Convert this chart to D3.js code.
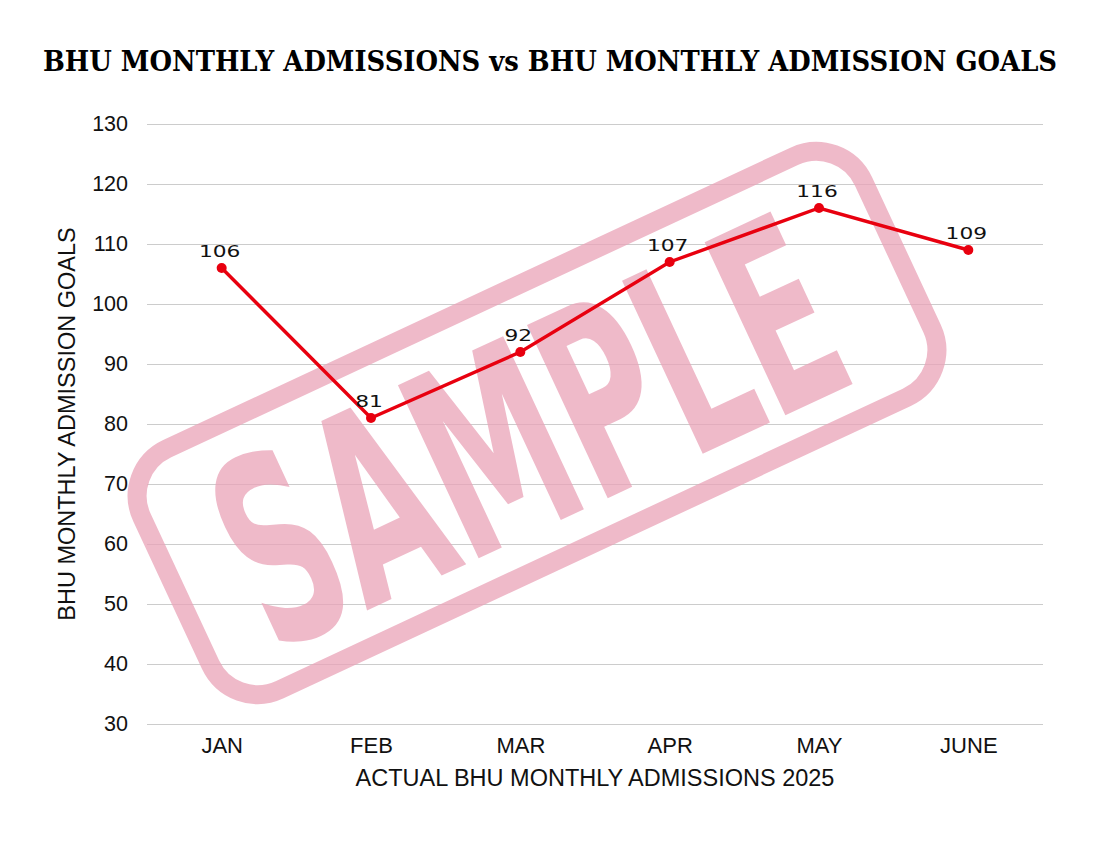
<!DOCTYPE html>
<html>
<head>
<meta charset="utf-8">
<script src="https://cdn.jsdelivr.net/npm/d3@7"></script>
<style>
  body { margin: 0; background: #fff; }
  #content { width: 1100px; height: 850px; }
</style>
</head>
<body>
<div id="content"></div>
<script>
var months = ['JAN', 'FEB', 'MAR', 'APR', 'MAY', 'JUNE'];
var admissions = [106, 81, 92, 107, 116, 109];
var yTicks = [30, 40, 50, 60, 70, 80, 90, 100, 110, 120, 130];

var width = 1100, height = 850;
var margin = {top: 124, right: 57, bottom: 126, left: 147};

var svg = d3.select('div#content').append('svg')
  .attr('width', width)
  .attr('height', height);

var x = d3.scalePoint()
  .domain(months)
  .range([margin.left, width - margin.right])
  .padding(0.5);

var y = d3.scaleLinear()
  .domain([30, 130])
  .range([height - margin.bottom, margin.top]);

var sans = 'Liberation Sans, Arial, sans-serif';

// title
svg.append('text')
  .attr('x', 550)
  .attr('y', 71)
  .attr('text-anchor', 'middle')
  .attr('font-family', 'DejaVu Serif')
  .attr('font-weight', 'bold')
  .attr('font-size', 27)
  .attr('textLength', 1014)
  .attr('lengthAdjust', 'spacingAndGlyphs')
  .attr('fill', '#000')
  .text('BHU MONTHLY ADMISSIONS vs BHU MONTHLY ADMISSION GOALS');

// grid + y labels
var yAxis = svg.append('g')
  .attr('transform', 'translate(' + margin.left + ',0)')
  .call(d3.axisLeft(y)
    .tickValues(yTicks)
    .tickSize(-(width - margin.left - margin.right))
    .tickPadding(19));
yAxis.select('.domain').remove();
yAxis.selectAll('.tick line')
  .attr('stroke', '#cccccc')
  .attr('stroke-width', 1.2);
yAxis.selectAll('.tick text')
  .attr('font-family', sans)
  .attr('font-size', 21.5)
  .attr('fill', '#111');

// x labels
var xAxis = svg.append('g')
  .attr('transform', 'translate(0,' + (height - margin.bottom) + ')')
  .call(d3.axisBottom(x).tickSize(0).tickPadding(13));
xAxis.select('.domain').remove();
xAxis.selectAll('.tick text')
  .attr('font-family', sans)
  .attr('font-size', 22)
  .attr('fill', '#111');

// axis titles
svg.append('text')
  .attr('x', 595)
  .attr('y', 786)
  .attr('text-anchor', 'middle')
  .attr('font-family', sans)
  .attr('font-size', 23.5)
  .attr('fill', '#111')
  .text('ACTUAL BHU MONTHLY ADMISSIONS 2025');

svg.append('text')
  .attr('transform', 'translate(75,424) rotate(-90)')
  .attr('text-anchor', 'middle')
  .attr('font-family', sans)
  .attr('font-size', 23.5)
  .attr('fill', '#111')
  .text('BHU MONTHLY ADMISSION GOALS');

// "SAMPLE" stamp watermark
var stamp = svg.append('g')
  .attr('transform', 'translate(537,423) rotate(-25)')
  .attr('opacity', 0.75);
stamp.append('rect')
  .attr('x', -398)
  .attr('y', -133)
  .attr('width', 796)
  .attr('height', 266)
  .attr('rx', 52)
  .attr('fill', 'none')
  .attr('stroke', '#eaa3b8')
  .attr('stroke-width', 19);
stamp.append('text')
  .attr('x', -12)
  .attr('y', 98)
  .attr('text-anchor', 'middle')
  .attr('font-family', 'DejaVu Sans Condensed, DejaVu Sans')
  .attr('font-weight', 'bold')
  .attr('font-size', 262)
  .attr('textLength', 650)
  .attr('lengthAdjust', 'spacingAndGlyphs')
  .attr('fill', '#eaa3b8')
  .text('SAMPLE');

// line
var line = d3.line()
  .x(function(d, i){ return x(months[i]); })
  .y(function(d){ return y(d); });

svg.append('path')
  .datum(admissions)
  .attr('d', line)
  .attr('fill', 'none')
  .attr('stroke', '#e8000f')
  .attr('stroke-width', 3.4);

svg.append('g')
  .selectAll('circle')
  .data(admissions)
  .enter()
  .append('circle')
  .attr('cx', function(d, i){ return x(months[i]); })
  .attr('cy', function(d){ return y(d); })
  .attr('r', 5)
  .attr('fill', '#e8000f');

// data labels, wide lettering
svg.append('g')
  .selectAll('text')
  .data(admissions)
  .enter()
  .append('text')
  .attr('transform', function(d, i){
    return 'translate(' + (x(months[i]) - 2) + ',' + (y(d) - 11) + ') scale(1.45,1)';
  })
  .attr('text-anchor', 'middle')
  .attr('font-family', 'DejaVu Sans')
  .attr('font-size', 15)
  .attr('fill', '#111')
  .text(function(d){ return d; });
</script>
</body>
</html>
